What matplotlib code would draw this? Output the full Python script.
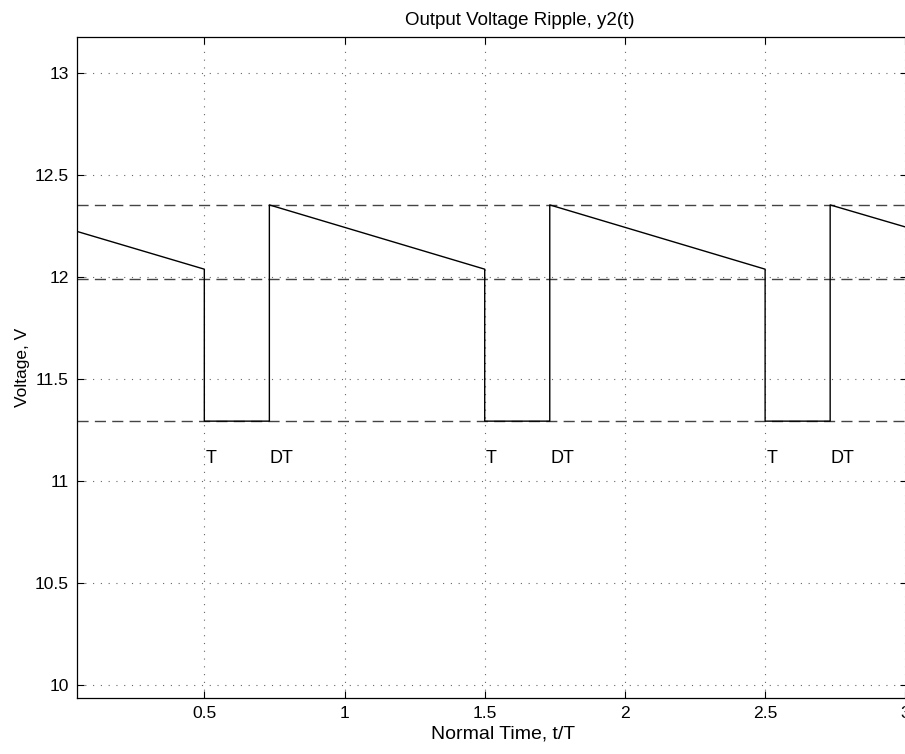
import matplotlib
matplotlib.use("Agg")
import matplotlib.pyplot as plt

# Waveform vertices (t/T, voltage)
t_vals = [0.046, 0.5, 0.5, 0.732, 0.732, 1.5, 1.5, 1.732, 1.732, 2.5, 2.5, 2.732, 2.732, 3.0]
v_vals = [12.223, 12.038, 11.293, 11.293, 12.353, 12.038, 11.293, 11.293, 12.353,
          12.038, 11.293, 11.293, 12.353, 12.245]

# Dashed reference levels
levels = [12.353, 11.988, 11.293]

# Annotations
labels = ["T", "DT", "T", "DT", "T", "DT"]
label_x = [0.505, 0.733, 1.505, 1.733, 2.505, 2.733]
label_y = 11.11

xticks = [0.5, 1, 1.5, 2, 2.5, 3]
xticklabels = ["0.5", "1", "1.5", "2", "2.5", "3"]
yticks = [10, 10.5, 11, 11.5, 12, 12.5, 13]
yticklabels = ["10", "10.5", "11", "11.5", "12", "12.5", "13"]

plt.rcParams['font.family'] = ['Liberation Sans', 'DejaVu Sans']
plt.rcParams['font.size'] = 11

fig = plt.figure(figsize=(9.05, 7.54), dpi=100)
ax = fig.add_axes([0.0851, 0.0743, 0.9171, 0.8766])

for lv in levels:
    ax.axhline(lv, color='#444444', lw=1.0, dashes=(8, 4.5), zorder=2)

ax.plot(t_vals, v_vals, color='black', lw=1.0, zorder=3)

for s, x in zip(labels, label_x):
    ax.text(x, label_y, s, ha='left', va='center', fontsize=13)

ax.set_xlim(0.046, 3.006)
ax.set_ylim(9.936, 13.176)
ax.set_xticks(xticks)
ax.set_xticklabels(xticklabels)
ax.set_yticks(yticks)
ax.set_yticklabels(yticklabels)
ax.tick_params(direction='in', top=True, right=True, length=5, width=0.8, labelsize=12.6, pad=6)
ax.grid(True, color='#666666', linestyle=(0, (1, 6)), lw=0.8)
for sp in ax.spines.values():
    sp.set_linewidth(0.9)

ax.set_title("Output Voltage Ripple, y2(t)", fontsize=13.5, pad=9, x=0.534)
ax.set_xlabel("Normal Time, t/T", fontsize=14, labelpad=3)
ax.xaxis.label.set_x(0.513)
ax.set_ylabel("Voltage, V", fontsize=12.5, labelpad=3)

fig.savefig("out.png", dpi=100)
